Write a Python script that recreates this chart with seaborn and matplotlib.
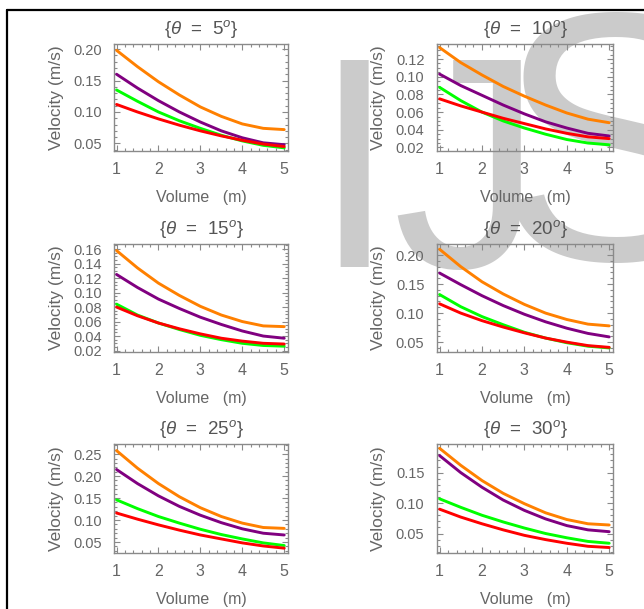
import matplotlib
matplotlib.use("Agg")
import matplotlib.pyplot as plt
import numpy as np
import pandas as pd
import seaborn as sns
from matplotlib.ticker import MultipleLocator, FormatStrFormatter, AutoMinorLocator
from matplotlib.lines import Line2D

# ---------------- data ----------------
volume = [1.0, 1.5, 2.0, 2.5, 3.0, 3.5, 4.0, 4.5, 5.0]
angles = [5, 10, 15, 20, 25, 30]
xticks = [1, 2, 3, 4, 5]

orange_vel = {
    5:  [0.198, 0.172, 0.148, 0.127, 0.108, 0.093, 0.081, 0.074, 0.072],
    10: [0.133, 0.116, 0.102, 0.089, 0.078, 0.068, 0.059, 0.052, 0.048],
    15: [0.158, 0.134, 0.113, 0.096, 0.081, 0.069, 0.060, 0.054, 0.053],
    20: [0.210, 0.180, 0.154, 0.133, 0.115, 0.100, 0.089, 0.081, 0.078],
    25: [0.258, 0.218, 0.183, 0.153, 0.128, 0.108, 0.093, 0.083, 0.081],
    30: [0.190, 0.162, 0.137, 0.116, 0.099, 0.084, 0.073, 0.066, 0.064],
}
purple_vel = {
    5:  [0.160, 0.138, 0.118, 0.100, 0.084, 0.070, 0.059, 0.051, 0.048],
    10: [0.103, 0.090, 0.079, 0.068, 0.058, 0.049, 0.042, 0.036, 0.033],
    15: [0.125, 0.107, 0.091, 0.078, 0.066, 0.056, 0.047, 0.040, 0.037],
    20: [0.169, 0.149, 0.130, 0.113, 0.098, 0.085, 0.074, 0.065, 0.059],
    25: [0.215, 0.183, 0.155, 0.131, 0.111, 0.094, 0.080, 0.070, 0.066],
    30: [0.178, 0.150, 0.126, 0.105, 0.088, 0.074, 0.063, 0.056, 0.053],
}
green_vel = {
    5:  [0.135, 0.117, 0.100, 0.086, 0.074, 0.063, 0.054, 0.047, 0.043],
    10: [0.088, 0.073, 0.060, 0.050, 0.042, 0.035, 0.029, 0.025, 0.023],
    15: [0.084, 0.069, 0.058, 0.049, 0.041, 0.035, 0.030, 0.027, 0.026],
    20: [0.132, 0.111, 0.094, 0.080, 0.067, 0.057, 0.049, 0.043, 0.040],
    25: [0.146, 0.126, 0.108, 0.093, 0.079, 0.067, 0.057, 0.048, 0.042],
    30: [0.107, 0.093, 0.080, 0.069, 0.059, 0.050, 0.043, 0.037, 0.034],
}
red_vel = {
    5:  [0.112, 0.100, 0.089, 0.079, 0.070, 0.062, 0.055, 0.049, 0.045],
    10: [0.075, 0.067, 0.060, 0.053, 0.047, 0.041, 0.036, 0.032, 0.030],
    15: [0.080, 0.068, 0.058, 0.050, 0.043, 0.037, 0.033, 0.030, 0.029],
    20: [0.116, 0.100, 0.087, 0.076, 0.066, 0.057, 0.050, 0.044, 0.041],
    25: [0.116, 0.102, 0.089, 0.077, 0.066, 0.057, 0.048, 0.041, 0.036],
    30: [0.090, 0.077, 0.066, 0.056, 0.047, 0.040, 0.034, 0.029, 0.027],
}
y_limits = {5: (0.038, 0.208), 10: (0.016, 0.137), 15: (0.018, 0.167),
            20: (0.033, 0.219), 25: (0.025, 0.273), 30: (0.018, 0.197)}
y_steps = {5: 0.05, 10: 0.02, 15: 0.02, 20: 0.05, 25: 0.05, 30: 0.05}

series_names = ["orange", "purple", "green", "red"]
palette = {"orange": "#FF8000", "purple": "#800080", "green": "#00FF00", "red": "#FF0000"}
series_data = {"orange": orange_vel, "purple": purple_vel, "green": green_vel, "red": red_vel}

# ---------------- style ----------------
sns.set_style("ticks")
plt.rcParams["font.family"] = ["Liberation Sans", "DejaVu Sans"]
plt.rcParams["mathtext.fontset"] = "custom"
plt.rcParams["mathtext.rm"] = "Liberation Sans"
plt.rcParams["mathtext.it"] = "Liberation Sans:italic"

W, H = 644, 609
fig = plt.figure(figsize=(W / 100, H / 100), dpi=100)

# watermark (behind everything)
wm_color = "#cbcbcb"
for letter, xpx, ypx, size in [("I", 312, 267, 216), ("J", 392, 267, 216), ("S", 496, 260, 255)]:
    fig.text(xpx / W, 1 - ypx / H, letter, fontsize=size, color=wm_color,
             ha="left", va="baseline", zorder=-5, family="Liberation Sans")

# outer frame (left and top edges visible)
fig.add_artist(Line2D([6.5 / W, 6.5 / W], [0, 1 - 10 / H], color="black", lw=1.6,
                      transform=fig.transFigure))
fig.add_artist(Line2D([6.5 / W, 1], [1 - 10 / H, 1 - 10 / H], color="black", lw=1.6,
                      transform=fig.transFigure))

cols_px = [(114, 288), (437, 613)]
rows_px = [(44, 151), (244, 352), (444, 553)]

gray = "#666666"
for i, ang in enumerate(angles):
    r, c = divmod(i, 2)
    x0, x1 = cols_px[c]
    y0, y1 = rows_px[r]
    ax = fig.add_axes([x0 / W, 1 - y1 / H, (x1 - x0) / W, (y1 - y0) / H])
    ax.set_facecolor("none")

    rows = []
    for name in series_names:
        for v, val in zip(volume, series_data[name][ang]):
            rows.append({"Volume": v, "Velocity": val, "series": name})
    df = pd.DataFrame(rows)
    sns.lineplot(data=df, x="Volume", y="Velocity", hue="series",
                 hue_order=series_names, palette=palette, linewidth=2.1,
                 legend=False, ax=ax)

    ax.set_xlim(0.94, 5.09)
    ax.set_ylim(*y_limits[ang])
    ax.set_xticks(xticks)
    ax.yaxis.set_major_locator(MultipleLocator(y_steps[ang]))
    ax.yaxis.set_major_formatter(FormatStrFormatter("%.2f"))
    ax.xaxis.set_minor_locator(AutoMinorLocator(5))
    ax.yaxis.set_minor_locator(AutoMinorLocator(5 if y_steps[ang] == 0.05 else 4))

    for sp in ax.spines.values():
        sp.set_visible(True)
        sp.set_color("#8a8a8a")
        sp.set_linewidth(1.0)
    ax.tick_params(which="both", direction="in", top=True, right=True,
                   color="#8a8a8a", width=0.8)
    ax.tick_params(which="major", length=4)
    ax.tick_params(which="minor", length=2)
    ax.tick_params(axis="x", which="major", labelsize=11.5, labelcolor=gray, pad=8)
    ax.tick_params(axis="y", which="major", labelsize=10.5, labelcolor=gray, pad=9)

    ax.set_title(r"{$\theta$  =  " + str(ang) + r"$^{o}$}", fontsize=13.5,
                 color="#555555", pad=7)
    ax.set_xlabel("Volume   (m)", fontsize=11.5, color=gray)
    ax.set_ylabel("Velocity (m/s)", fontsize=12.5, color=gray)
    ax.xaxis.set_label_coords(0.5, -0.36)
    ax.yaxis.set_label_coords(-0.29, 0.5)

fig.savefig("out.png", dpi=100)
